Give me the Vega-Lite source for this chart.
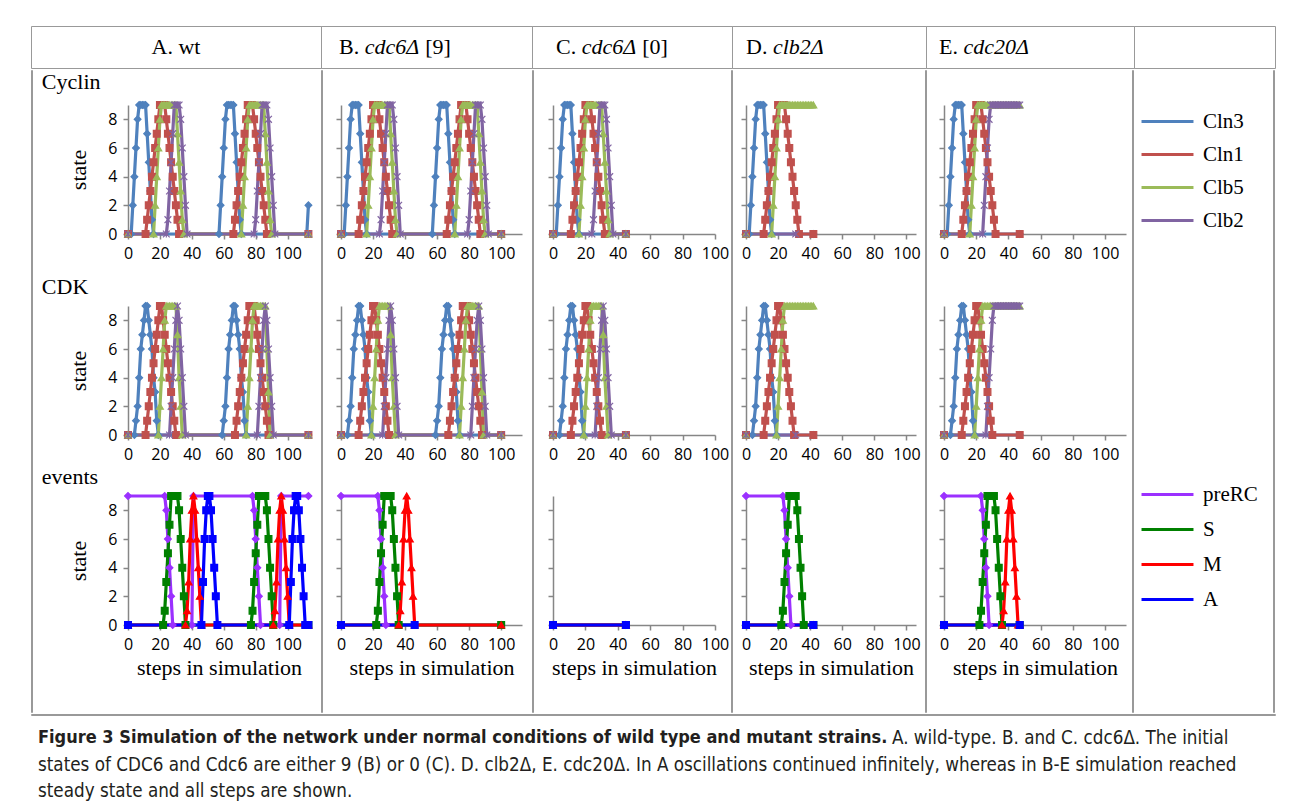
{
"$schema": "https://vega.github.io/schema/vega-lite/v6.json",
"padding": {"left": 30, "top": 25, "right": 5, "bottom": 0},
"background": "white",
"bounds": "full",
"spacing": 0,
"resolve": {"scale": {"color": "independent", "fill": "independent", "stroke": "independent", "shape": "independent"}},
"config": {
 "view": {"stroke": null},
 "font": "Liberation Serif",
 "line": {"strokeWidth": 3.2, "strokeJoin": "round"},
 "point": {"filled": true, "size": 46, "strokeWidth": 1.2, "opacity": 1},
 "axis": {"grid": false, "domainColor": "#868686", "domainWidth": 1.5, "tickColor": "#868686", "tickWidth": 1.5, "tickSize": 5, "labelFont": "Open Sans", "labelFontSize": 16, "labelColor": "#000", "labelPadding": 6, "labelFlush": false, "labelOverlap": false, "titleFont": "Liberation Serif", "titleFontSize": 22, "titleFontWeight": "normal", "titleColor": "#000"},
 "axisY": {"titlePadding": 17},
 "axisX": {"titlePadding": 5},
 "title": {"font": "Liberation Serif", "fontSize": 22, "fontWeight": "normal", "color": "#000"},
 "legend": {"labelFont": "Liberation Serif", "labelFontSize": 21, "labelColor": "#000"}
},
"datasets": {
 "Acyc": [
  {"s":"Cln3","x":[0,2,3,4,5,6,7,8,9,10,11,12,13,14,15,16,57,58,59,60,61,62,63,64,65,66,67,68,69,70,71,112,113],"y":[0,0,2,4,6,8,9,9,9,9,9,7,5,3,1,0,0,2,4,6,8,9,9,9,9,9,7,5,3,1,0,0,2]},
  {"s":"Cln1","x":[0,11,12,13,14,15,16,17,18,19,20,21,22,23,24,25,26,27,28,29,30,31,32,66,67,68,69,70,71,72,73,74,75,76,77,78,79,80,81,82,83,84,85,86,87,113],"y":[0,0,1,2,3,4,5,6,7,8,9,9,9,9,8,7,6,5,4,3,2,1,0,0,1,2,3,4,5,6,7,8,9,9,9,9,8,7,6,5,4,3,2,1,0,0]},
  {"s":"Clb5","x":[0,16,17,18,19,20,21,22,23,24,25,26,27,28,29,30,31,32,33,34,35,71,72,73,74,75,76,77,78,79,80,81,82,83,84,85,86,87,88,89,90,113],"y":[0,0,2,4,6,8,9,9,9,9,9,9,9,9,9,9,7,5,3,1,0,0,2,4,6,8,9,9,9,9,9,9,9,9,9,9,7,5,3,1,0,0]},
  {"s":"Clb2","x":[0,24,25,26,27,28,29,30,31,32,33,34,35,36,37,79,80,81,82,83,84,85,86,87,88,89,90,91,92,113],"y":[0,0,1,3,5,7,9,9,9,9,8,6,4,2,0,0,1,3,5,7,9,9,9,9,8,6,4,2,0,0]}
 ],
 "Bcyc": [
  {"s":"Cln3","x":[0,2,3,4,5,6,7,8,9,10,11,12,13,14,15,16,57,58,59,60,61,62,63,64,65,66,67,68,69,70,71,100],"y":[0,0,2,4,6,8,9,9,9,9,9,7,5,3,1,0,0,2,4,6,8,9,9,9,9,9,7,5,3,1,0,0]},
  {"s":"Cln1","x":[0,11,12,13,14,15,16,17,18,19,20,21,22,23,24,25,26,27,28,29,30,31,32,66,67,68,69,70,71,72,73,74,75,76,77,78,79,80,81,82,83,84,85,86,87,100],"y":[0,0,1,2,3,4,5,6,7,8,9,9,9,9,8,7,6,5,4,3,2,1,0,0,1,2,3,4,5,6,7,8,9,9,9,9,8,7,6,5,4,3,2,1,0,0]},
  {"s":"Clb5","x":[0,16,17,18,19,20,21,22,23,24,25,26,27,28,29,30,31,32,33,34,35,71,72,73,74,75,76,77,78,79,80,81,82,83,84,85,86,87,88,89,90,100],"y":[0,0,2,4,6,8,9,9,9,9,9,9,9,9,9,9,7,5,3,1,0,0,2,4,6,8,9,9,9,9,9,9,9,9,9,9,7,5,3,1,0,0]},
  {"s":"Clb2","x":[0,24,25,26,27,28,29,30,31,32,33,34,35,36,37,79,80,81,82,83,84,85,86,87,88,89,90,91,92,100],"y":[0,0,1,3,5,7,9,9,9,9,8,6,4,2,0,0,1,3,5,7,9,9,9,9,8,6,4,2,0,0]}
 ],
 "Ccyc": [
  {"s":"Cln3","x":[0,2,3,4,5,6,7,8,9,10,11,12,13,14,15,16,45],"y":[0,0,2,4,6,8,9,9,9,9,9,7,5,3,1,0,0]},
  {"s":"Cln1","x":[0,11,12,13,14,15,16,17,18,19,20,21,22,23,24,25,26,27,28,29,30,31,32,45],"y":[0,0,1,2,3,4,5,6,7,8,9,9,9,9,8,7,6,5,4,3,2,1,0,0]},
  {"s":"Clb5","x":[0,16,17,18,19,20,21,22,23,24,25,26,27,28,29,30,31,32,33,34,35,45],"y":[0,0,2,4,6,8,9,9,9,9,9,9,9,9,9,9,7,5,3,1,0,0]},
  {"s":"Clb2","x":[0,24,25,26,27,28,29,30,31,32,33,34,35,36,37,45],"y":[0,0,1,3,5,7,9,9,9,9,8,6,4,2,0,0]}
 ],
 "Dcyc": [
  {"s":"Cln3","x":[0,2,3,4,5,6,7,8,9,10,11,12,13,14,15,16,42],"y":[0,0,2,4,6,8,9,9,9,9,9,7,5,3,1,0,0]},
  {"s":"Cln1","x":[0,11,12,13,14,15,16,17,18,19,20,21,22,23,24,25,26,27,28,29,30,31,32,33,42],"y":[0,0,1,2,3,4,5,6,7,8,9,9,9,9,9,8,7,6,5,4,3,2,1,0,0]},
  {"s":"Clb5","x":[0,16,17,18,19,20,21,22,23,24,25,26,27,28,29,30,31,32,33,34,35,36,37,38,39,40,41,42],"y":[0,0,2,4,6,8,9,9,9,9,9,9,9,9,9,9,9,9,9,9,9,9,9,9,9,9,9,9]},
  {"s":"Clb2","x":[0,31],"y":[0,0]}
 ],
 "Ecyc": [
  {"s":"Cln3","x":[0,2,3,4,5,6,7,8,9,10,11,12,13,14,15,16,47],"y":[0,0,2,4,6,8,9,9,9,9,9,7,5,3,1,0,0]},
  {"s":"Cln1","x":[0,11,12,13,14,15,16,17,18,19,20,21,22,23,24,25,26,27,28,29,30,31,32,47],"y":[0,0,1,2,3,4,5,6,7,8,9,9,9,9,8,7,6,5,4,3,2,1,0,0]},
  {"s":"Clb5","x":[0,16,17,18,19,20,21,22,23,24,25,26,27,28,29,30,31,32,33,34,35,36,37,38,39,40,41,42,43,44,45,46,47],"y":[0,0,2,4,6,8,9,9,9,9,9,9,9,9,9,9,9,9,9,9,9,9,9,9,9,9,9,9,9,9,9,9,9]},
  {"s":"Clb2","x":[0,24,25,26,27,28,29,30,31,32,33,34,35,36,37,38,39,40,41,42,43,44,45,46,47],"y":[0,0,2,4,6,8,9,9,9,9,9,9,9,9,9,9,9,9,9,9,9,9,9,9,9]}
 ],
 "Acdk": [
  {"s":"Cln3","x":[0,4,5,6,7,8,9,10,11,12,13,14,15,16,17,18,19,59,60,61,62,63,64,65,66,67,68,69,70,71,72,73,74,113],"y":[0,0,1,2,4,6,7,8,9,9,8,7,6,4,3,1,0,0,1,2,4,6,7,8,9,9,8,7,6,4,3,1,0,0]},
  {"s":"Cln1","x":[0,11,12,13,14,15,16,17,18,19,20,21,22,23,24,25,26,27,28,29,30,67,68,69,70,71,72,73,74,75,76,77,78,79,80,81,82,83,84,85,86,87,88,113],"y":[0,0,1,2,3,4,5,6,7,8,9,9,8,7,6,5,4,3,2,1,0,0,1,2,3,4,5,6,7,8,9,9,9,9,8,7,6,5,4,3,2,1,0,0]},
  {"s":"Clb5","x":[0,19,20,21,22,23,24,25,26,27,28,29,30,31,32,33,34,74,75,76,77,78,79,80,81,82,83,84,85,86,87,88,89,113],"y":[0,0,2,4,6,8,9,9,9,9,9,9,9,7,4,2,0,0,2,4,6,8,9,9,9,9,9,9,9,9,6,3,0,0]},
  {"s":"Clb2","x":[0,26,27,28,29,30,31,32,33,34,35,36,81,82,83,84,85,86,87,88,89,90,91,113],"y":[0,0,2,4,6,8,9,8,6,4,2,0,0,2,4,6,8,9,8,6,4,2,0,0]}
 ],
 "Bcdk": [
  {"s":"Cln3","x":[0,4,5,6,7,8,9,10,11,12,13,14,15,16,17,18,19,59,60,61,62,63,64,65,66,67,68,69,70,71,72,73,74,100],"y":[0,0,1,2,4,6,7,8,9,9,8,7,6,4,3,1,0,0,1,2,4,6,7,8,9,9,8,7,6,4,3,1,0,0]},
  {"s":"Cln1","x":[0,11,12,13,14,15,16,17,18,19,20,21,22,23,24,25,26,27,28,29,30,67,68,69,70,71,72,73,74,75,76,77,78,79,80,81,82,83,84,85,86,87,88,100],"y":[0,0,1,2,3,4,5,6,7,8,9,9,8,7,6,5,4,3,2,1,0,0,1,2,3,4,5,6,7,8,9,9,9,9,8,7,6,5,4,3,2,1,0,0]},
  {"s":"Clb5","x":[0,19,20,21,22,23,24,25,26,27,28,29,30,31,32,33,34,74,75,76,77,78,79,80,81,82,83,84,85,86,87,88,89,100],"y":[0,0,2,4,6,8,9,9,9,9,9,9,9,7,4,2,0,0,2,4,6,8,9,9,9,9,9,9,9,9,6,3,0,0]},
  {"s":"Clb2","x":[0,26,27,28,29,30,31,32,33,34,35,36,81,82,83,84,85,86,87,88,89,90,91,100],"y":[0,0,2,4,6,8,9,8,6,4,2,0,0,2,4,6,8,9,8,6,4,2,0,0]}
 ],
 "Ccdk": [
  {"s":"Cln3","x":[0,4,5,6,7,8,9,10,11,12,13,14,15,16,17,18,19,45],"y":[0,0,1,2,4,6,7,8,9,9,8,7,6,4,3,1,0,0]},
  {"s":"Cln1","x":[0,11,12,13,14,15,16,17,18,19,20,21,22,23,24,25,26,27,28,29,30,45],"y":[0,0,1,2,3,4,5,6,7,8,9,9,8,7,6,5,4,3,2,1,0,0]},
  {"s":"Clb5","x":[0,19,20,21,22,23,24,25,26,27,28,29,30,31,32,33,34,45],"y":[0,0,2,4,6,8,9,9,9,9,9,9,9,7,4,2,0,0]},
  {"s":"Clb2","x":[0,26,27,28,29,30,31,32,33,34,35,36,45],"y":[0,0,2,4,6,8,9,8,6,4,2,0,0]}
 ],
 "Dcdk": [
  {"s":"Cln3","x":[0,4,5,6,7,8,9,10,11,12,13,14,15,16,17,18,19,42],"y":[0,0,1,2,4,6,7,8,9,9,8,7,6,4,3,1,0,0]},
  {"s":"Cln1","x":[0,11,12,13,14,15,16,17,18,19,20,21,22,23,24,25,26,27,28,29,30,42],"y":[0,0,1,2,3,4,5,6,7,8,9,9,8,7,6,5,4,3,2,1,0,0]},
  {"s":"Clb5","x":[0,19,20,21,22,23,24,25,26,27,28,29,30,31,32,33,34,35,36,37,38,39,40,41,42],"y":[0,0,2,4,6,8,9,9,9,9,9,9,9,9,9,9,9,9,9,9,9,9,9,9,9]},
  {"s":"Clb2","x":[0,31],"y":[0,0]}
 ],
 "Ecdk": [
  {"s":"Cln3","x":[0,4,5,6,7,8,9,10,11,12,13,14,15,16,17,18,19,47],"y":[0,0,1,2,4,6,7,8,9,9,8,7,6,4,3,1,0,0]},
  {"s":"Cln1","x":[0,11,12,13,14,15,16,17,18,19,20,21,22,23,24,25,26,27,28,29,30,47],"y":[0,0,1,2,3,4,5,6,7,8,9,9,8,7,6,5,4,3,2,1,0,0]},
  {"s":"Clb5","x":[0,19,20,21,22,23,24,25,26,27,28,29,30,31,32,33,34,35,36,37,38,39,40,41,42,43,44,45,46,47],"y":[0,0,2,4,6,8,9,9,9,9,9,9,9,9,9,9,9,9,9,9,9,9,9,9,9,9,9,9,9,9]},
  {"s":"Clb2","x":[0,26,27,28,29,30,31,32,33,34,35,36,37,38,39,40,41,42,43,44,45,46,47],"y":[0,0,2,4,6,8,9,9,9,9,9,9,9,9,9,9,9,9,9,9,9,9,9]}
 ],
 "Aev": [
  {"s":"preRC","x":[0,23,24,25,26,27,28,40,41,78,79,80,81,82,83,95,96,113],"y":[9,9,8,6,4,2,0,0,9,9,8,6,4,2,0,0,9,9]},
  {"s":"S","x":[0,22,23,24,25,26,27,28,29,30,31,32,33,34,35,36,77,78,79,80,81,82,83,84,85,86,87,88,89,90,91,113],"y":[0,0,1,3,5,7,9,9,9,9,9,8,6,4,2,0,0,1,3,5,7,9,9,9,9,9,8,6,4,2,0,0]},
  {"s":"M","x":[0,36,37,38,39,40,41,42,43,44,45,46,91,92,93,94,95,96,97,98,99,100,101,113],"y":[0,0,1,3,6,8,9,8,6,4,2,0,0,1,3,6,8,9,8,6,4,2,0,0]},
  {"s":"A","x":[0,46,47,48,49,50,51,52,53,54,55,56,101,102,103,104,105,106,107,108,109,110,111,113],"y":[0,0,3,6,8,9,9,8,6,4,2,0,0,3,6,8,9,9,8,6,4,2,0,0]}
 ],
 "Bev": [
  {"s":"preRC","x":[0,23,24,25,26,27,28,100],"y":[9,9,8,6,4,2,0,0]},
  {"s":"S","x":[0,22,23,24,25,26,27,28,29,30,31,32,33,34,35,36,100],"y":[0,0,1,3,5,7,9,9,9,9,9,8,6,4,2,0,0]},
  {"s":"M","x":[0,36,37,38,39,40,41,42,43,44,45,46,100],"y":[0,0,1,3,6,8,9,8,6,4,2,0,0]},
  {"s":"A","x":[0,46],"y":[0,0]}
 ],
 "Cev": [
  {"s":"preRC","x":[0,45],"y":[0,0]},
  {"s":"S","x":[0,45],"y":[0,0]},
  {"s":"M","x":[0,45],"y":[0,0]},
  {"s":"A","x":[0,45],"y":[0,0]}
 ],
 "Dev": [
  {"s":"preRC","x":[0,23,24,25,26,27,28,42],"y":[9,9,8,6,4,2,0,0]},
  {"s":"S","x":[0,22,23,24,25,26,27,28,29,30,31,32,33,34,35,36,42],"y":[0,0,1,3,5,7,9,9,9,9,9,8,6,4,2,0,0]},
  {"s":"M","x":[0,42],"y":[0,0]},
  {"s":"A","x":[0,42],"y":[0,0]}
 ],
 "Eev": [
  {"s":"preRC","x":[0,23,24,25,26,27,28,47],"y":[9,9,8,6,4,2,0,0]},
  {"s":"S","x":[0,22,23,24,25,26,27,28,29,30,31,32,33,34,35,36,47],"y":[0,0,1,3,5,7,9,9,9,9,9,8,6,4,2,0,0]},
  {"s":"M","x":[0,36,37,38,39,40,41,42,43,44,45,46,47],"y":[0,0,1,3,6,8,9,8,6,4,2,0,0]},
  {"s":"A","x":[0,47],"y":[0,0]}
 ]
},
"vconcat": [
 {"hconcat": [
   {"width": 290, "height": 42, "view": {"stroke": "#999"}, "data": {"values": [{}]}, "mark": {"type": "text", "text": "A. wt", "font": "Liberation Serif", "fontSize": 22, "color": "#000"}},
   {"width": 211, "height": 42, "view": {"stroke": "#999"}, "data": {"values": [{}]}, "layer": [
     {"mark": {"type": "text", "text": "B.", "align": "left", "dx": -87.5, "font": "Liberation Serif", "fontSize": 22, "color": "#000"}},
     {"mark": {"type": "text", "text": "cdc6Δ", "align": "left", "dx": -61.8, "fontStyle": "italic", "font": "Liberation Serif", "fontSize": 22, "color": "#000"}},
     {"mark": {"type": "text", "text": "[9]", "align": "left", "dx": -1.3, "font": "Liberation Serif", "fontSize": 22, "color": "#000"}}]},
   {"width": 200, "height": 42, "view": {"stroke": "#999"}, "data": {"values": [{}]}, "layer": [
     {"mark": {"type": "text", "text": "C.", "align": "left", "dx": -76, "font": "Liberation Serif", "fontSize": 22, "color": "#000"}},
     {"mark": {"type": "text", "text": "cdc6Δ", "align": "left", "dx": -50.3, "fontStyle": "italic", "font": "Liberation Serif", "fontSize": 22, "color": "#000"}},
     {"mark": {"type": "text", "text": "[0]", "align": "left", "dx": 10.2, "font": "Liberation Serif", "fontSize": 22, "color": "#000"}}]},
   {"width": 194, "height": 42, "view": {"stroke": "#999"}, "data": {"values": [{}]}, "layer": [
     {"mark": {"type": "text", "text": "D.", "align": "left", "dx": -83, "font": "Liberation Serif", "fontSize": 22, "color": "#000"}},
     {"mark": {"type": "text", "text": "clb2Δ", "align": "left", "dx": -56.1, "fontStyle": "italic", "font": "Liberation Serif", "fontSize": 22, "color": "#000"}}]},
   {"width": 208, "height": 42, "view": {"stroke": "#999"}, "data": {"values": [{}]}, "layer": [
     {"mark": {"type": "text", "text": "E.", "align": "left", "dx": -91, "font": "Liberation Serif", "fontSize": 22, "color": "#000"}},
     {"mark": {"type": "text", "text": "cdc20Δ", "align": "left", "dx": -66.5, "fontStyle": "italic", "font": "Liberation Serif", "fontSize": 22, "color": "#000"}}]},
   {"width": 141, "height": 42, "view": {"stroke": "#999"}, "data": {"values": []}, "mark": {"type": "text", "text": ""}}
  ], "spacing": 0, "bounds": "flush"},
 {"hconcat": [
   {"width": 1, "height": 642, "view": {"stroke": "#999"}, "data": {"values": []}, "mark": {"type": "text", "text": ""}},
   {"width": 8, "height": 1, "data": {"values": []}, "mark": {"type": "text", "text": ""}},
   {"vconcat": [
     {"width": 1, "height": 35, "data": {"values": []}, "mark": {"type": "text", "text": ""}},
     {"width": 182, "height": 129, "data": {"name": "Acyc"}, "transform": [{"flatten": ["x", "y"]}],
      "title": {"text": "Cyclin", "anchor": "start", "dx": -26, "dy": 28, "offset": 16, "baseline": "alphabetic"},
      "encoding": {"x": {"field": "x", "type": "quantitative", "scale": {"domain": [0, 114], "nice": false}, "axis": {"values": [0,20,40,60,80,100], "title": null}},
                   "y": {"field": "y", "type": "quantitative", "scale": {"domain": [0, 9], "nice": false}, "axis": {"values": [0,2,4,6,8], "title": "state"}}},
      "layer": [
       {"mark": "line", "encoding": {"color": {"field": "s", "type": "nominal", "scale": {"domain": ["Cln3","Cln1","Clb5","Clb2"], "range": ["#4F81BD","#C0504D","#9BBB59","#8064A2"]}, "legend": null}}},
       {"mark": "point", "encoding": {
         "fill": {"field": "s", "type": "nominal", "scale": {"domain": ["Cln3","Cln1","Clb5","Clb2"], "range": ["#4F81BD","#C0504D","#9BBB59","#8064A2"]}, "legend": null},
         "stroke": {"field": "s", "type": "nominal", "scale": {"domain": ["Cln3","Cln1","Clb5","Clb2"], "range": ["#4F81BD","#C0504D","#9BBB59","#8064A2"]}, "legend": null},
         "shape": {"field": "s", "type": "nominal", "scale": {"domain": ["Cln3","Cln1","Clb5","Clb2"], "range": ["diamond","square","triangle-up","M-1,-1L1,1M-1,1L1,-1M0,-1L0,1"]}, "legend": null}}}
      ]},
     {"width": 1, "height": 72, "data": {"values": []}, "mark": {"type": "text", "text": ""}},
     {"width": 182, "height": 129, "data": {"name": "Acdk"}, "transform": [{"flatten": ["x", "y"]}],
      "title": {"text": "CDK", "anchor": "start", "dx": -26, "dy": 28, "offset": 12, "baseline": "alphabetic"},
      "encoding": {"x": {"field": "x", "type": "quantitative", "scale": {"domain": [0, 114], "nice": false}, "axis": {"values": [0,20,40,60,80,100], "title": null}},
                   "y": {"field": "y", "type": "quantitative", "scale": {"domain": [0, 9], "nice": false}, "axis": {"values": [0,2,4,6,8], "title": "state"}}},
      "layer": [
       {"mark": "line", "encoding": {"color": {"field": "s", "type": "nominal", "scale": {"domain": ["Cln3","Cln1","Clb5","Clb2"], "range": ["#4F81BD","#C0504D","#9BBB59","#8064A2"]}, "legend": null}}},
       {"mark": "point", "encoding": {
         "fill": {"field": "s", "type": "nominal", "scale": {"domain": ["Cln3","Cln1","Clb5","Clb2"], "range": ["#4F81BD","#C0504D","#9BBB59","#8064A2"]}, "legend": null},
         "stroke": {"field": "s", "type": "nominal", "scale": {"domain": ["Cln3","Cln1","Clb5","Clb2"], "range": ["#4F81BD","#C0504D","#9BBB59","#8064A2"]}, "legend": null},
         "shape": {"field": "s", "type": "nominal", "scale": {"domain": ["Cln3","Cln1","Clb5","Clb2"], "range": ["diamond","square","triangle-up","M-1,-1L1,1M-1,1L1,-1M0,-1L0,1"]}, "legend": null}}}
      ]},
     {"width": 1, "height": 61, "data": {"values": []}, "mark": {"type": "text", "text": ""}},
     {"width": 182, "height": 129, "data": {"name": "Aev"}, "transform": [{"flatten": ["x", "y"]}],
      "title": {"text": "events", "anchor": "start", "dx": -26, "dy": 29, "offset": 13, "baseline": "alphabetic"},
      "encoding": {"x": {"field": "x", "type": "quantitative", "scale": {"domain": [0, 114], "nice": false}, "axis": {"values": [0,20,40,60,80,100], "title": "steps in simulation"}},
                   "y": {"field": "y", "type": "quantitative", "scale": {"domain": [0, 9], "nice": false}, "axis": {"values": [0,2,4,6,8], "title": "state"}}},
      "layer": [
       {"mark": "line", "encoding": {"color": {"field": "s", "type": "nominal", "scale": {"domain": ["preRC","S","M","A"], "range": ["#9B30FF","#008000","#FF0000","#0000FF"]}, "legend": null}}},
       {"mark": "point", "encoding": {
         "fill": {"field": "s", "type": "nominal", "scale": {"domain": ["preRC","S","M","A"], "range": ["#9B30FF","#008000","#FF0000","#0000FF"]}, "legend": null},
         "stroke": {"field": "s", "type": "nominal", "scale": {"domain": ["preRC","S","M","A"], "range": ["#9B30FF","#008000","#FF0000","#0000FF"]}, "legend": null},
         "shape": {"field": "s", "type": "nominal", "scale": {"domain": ["preRC","S","M","A"], "range": ["diamond","square","triangle-up","square"]}, "legend": null}}}
      ]},
     {"width": 1, "height": 87, "data": {"values": []}, "mark": {"type": "text", "text": ""}}
    ], "spacing": 0, "bounds": "flush", "resolve": {"scale": {"color": "independent", "fill": "independent", "stroke": "independent", "shape": "independent"}}},
   {"width": 4.25, "height": 1, "data": {"values": []}, "mark": {"type": "text", "text": ""}},
   {"width": 1, "height": 642, "view": {"stroke": "#999"}, "data": {"values": []}, "mark": {"type": "text", "text": ""}},
   {"width": 11.5, "height": 1, "data": {"values": []}, "mark": {"type": "text", "text": ""}},
   {"vconcat": [
     {"width": 1, "height": 35, "data": {"values": []}, "mark": {"type": "text", "text": ""}},
     {"width": 181, "height": 129, "data": {"name": "Bcyc"}, "transform": [{"flatten": ["x", "y"]}],
      "encoding": {"x": {"field": "x", "type": "quantitative", "scale": {"domain": [0, 113], "nice": false}, "axis": {"values": [0,20,40,60,80,100], "title": null}},
                   "y": {"field": "y", "type": "quantitative", "scale": {"domain": [0, 9], "nice": false}, "axis": {"values": [0,2,4,6,8], "title": null, "labels": false}}},
      "layer": [
       {"mark": "line", "encoding": {"color": {"field": "s", "type": "nominal", "scale": {"domain": ["Cln3","Cln1","Clb5","Clb2"], "range": ["#4F81BD","#C0504D","#9BBB59","#8064A2"]}, "legend": null}}},
       {"mark": "point", "encoding": {
         "fill": {"field": "s", "type": "nominal", "scale": {"domain": ["Cln3","Cln1","Clb5","Clb2"], "range": ["#4F81BD","#C0504D","#9BBB59","#8064A2"]}, "legend": null},
         "stroke": {"field": "s", "type": "nominal", "scale": {"domain": ["Cln3","Cln1","Clb5","Clb2"], "range": ["#4F81BD","#C0504D","#9BBB59","#8064A2"]}, "legend": null},
         "shape": {"field": "s", "type": "nominal", "scale": {"domain": ["Cln3","Cln1","Clb5","Clb2"], "range": ["diamond","square","triangle-up","M-1,-1L1,1M-1,1L1,-1M0,-1L0,1"]}, "legend": null}}}
      ]},
     {"width": 1, "height": 72, "data": {"values": []}, "mark": {"type": "text", "text": ""}},
     {"width": 181, "height": 129, "data": {"name": "Bcdk"}, "transform": [{"flatten": ["x", "y"]}],
      "encoding": {"x": {"field": "x", "type": "quantitative", "scale": {"domain": [0, 113], "nice": false}, "axis": {"values": [0,20,40,60,80,100], "title": null}},
                   "y": {"field": "y", "type": "quantitative", "scale": {"domain": [0, 9], "nice": false}, "axis": {"values": [0,2,4,6,8], "title": null, "labels": false}}},
      "layer": [
       {"mark": "line", "encoding": {"color": {"field": "s", "type": "nominal", "scale": {"domain": ["Cln3","Cln1","Clb5","Clb2"], "range": ["#4F81BD","#C0504D","#9BBB59","#8064A2"]}, "legend": null}}},
       {"mark": "point", "encoding": {
         "fill": {"field": "s", "type": "nominal", "scale": {"domain": ["Cln3","Cln1","Clb5","Clb2"], "range": ["#4F81BD","#C0504D","#9BBB59","#8064A2"]}, "legend": null},
         "stroke": {"field": "s", "type": "nominal", "scale": {"domain": ["Cln3","Cln1","Clb5","Clb2"], "range": ["#4F81BD","#C0504D","#9BBB59","#8064A2"]}, "legend": null},
         "shape": {"field": "s", "type": "nominal", "scale": {"domain": ["Cln3","Cln1","Clb5","Clb2"], "range": ["diamond","square","triangle-up","M-1,-1L1,1M-1,1L1,-1M0,-1L0,1"]}, "legend": null}}}
      ]},
     {"width": 1, "height": 61, "data": {"values": []}, "mark": {"type": "text", "text": ""}},
     {"width": 181, "height": 129, "data": {"name": "Bev"}, "transform": [{"flatten": ["x", "y"]}],
      "encoding": {"x": {"field": "x", "type": "quantitative", "scale": {"domain": [0, 113], "nice": false}, "axis": {"values": [0,20,40,60,80,100], "title": "steps in simulation"}},
                   "y": {"field": "y", "type": "quantitative", "scale": {"domain": [0, 9], "nice": false}, "axis": {"values": [0,2,4,6,8], "title": null, "labels": false}}},
      "layer": [
       {"mark": "line", "encoding": {"color": {"field": "s", "type": "nominal", "scale": {"domain": ["preRC","S","M","A"], "range": ["#9B30FF","#008000","#FF0000","#0000FF"]}, "legend": null}}},
       {"mark": "point", "encoding": {
         "fill": {"field": "s", "type": "nominal", "scale": {"domain": ["preRC","S","M","A"], "range": ["#9B30FF","#008000","#FF0000","#0000FF"]}, "legend": null},
         "stroke": {"field": "s", "type": "nominal", "scale": {"domain": ["preRC","S","M","A"], "range": ["#9B30FF","#008000","#FF0000","#0000FF"]}, "legend": null},
         "shape": {"field": "s", "type": "nominal", "scale": {"domain": ["preRC","S","M","A"], "range": ["diamond","square","triangle-up","square"]}, "legend": null}}}
      ]},
     {"width": 1, "height": 87, "data": {"values": []}, "mark": {"type": "text", "text": ""}}
    ], "spacing": 0, "bounds": "flush", "resolve": {"scale": {"color": "independent", "fill": "independent", "stroke": "independent", "shape": "independent"}}},
   {"width": 8.7, "height": 1, "data": {"values": []}, "mark": {"type": "text", "text": ""}},
   {"width": 1, "height": 642, "view": {"stroke": "#999"}, "data": {"values": []}, "mark": {"type": "text", "text": ""}},
   {"width": 13, "height": 1, "data": {"values": []}, "mark": {"type": "text", "text": ""}},
   {"vconcat": [
     {"width": 1, "height": 35, "data": {"values": []}, "mark": {"type": "text", "text": ""}},
     {"width": 162, "height": 129, "data": {"name": "Ccyc"}, "transform": [{"flatten": ["x", "y"]}],
      "encoding": {"x": {"field": "x", "type": "quantitative", "scale": {"domain": [0, 100], "nice": false}, "axis": {"values": [0,20,40,60,80,100], "title": null}},
                   "y": {"field": "y", "type": "quantitative", "scale": {"domain": [0, 9], "nice": false}, "axis": {"values": [0,2,4,6,8], "title": null, "labels": false}}},
      "layer": [
       {"mark": "line", "encoding": {"color": {"field": "s", "type": "nominal", "scale": {"domain": ["Cln3","Cln1","Clb5","Clb2"], "range": ["#4F81BD","#C0504D","#9BBB59","#8064A2"]}, "legend": null}}},
       {"mark": "point", "encoding": {
         "fill": {"field": "s", "type": "nominal", "scale": {"domain": ["Cln3","Cln1","Clb5","Clb2"], "range": ["#4F81BD","#C0504D","#9BBB59","#8064A2"]}, "legend": null},
         "stroke": {"field": "s", "type": "nominal", "scale": {"domain": ["Cln3","Cln1","Clb5","Clb2"], "range": ["#4F81BD","#C0504D","#9BBB59","#8064A2"]}, "legend": null},
         "shape": {"field": "s", "type": "nominal", "scale": {"domain": ["Cln3","Cln1","Clb5","Clb2"], "range": ["diamond","square","triangle-up","M-1,-1L1,1M-1,1L1,-1M0,-1L0,1"]}, "legend": null}}}
      ]},
     {"width": 1, "height": 72, "data": {"values": []}, "mark": {"type": "text", "text": ""}},
     {"width": 162, "height": 129, "data": {"name": "Ccdk"}, "transform": [{"flatten": ["x", "y"]}],
      "encoding": {"x": {"field": "x", "type": "quantitative", "scale": {"domain": [0, 100], "nice": false}, "axis": {"values": [0,20,40,60,80,100], "title": null}},
                   "y": {"field": "y", "type": "quantitative", "scale": {"domain": [0, 9], "nice": false}, "axis": {"values": [0,2,4,6,8], "title": null, "labels": false}}},
      "layer": [
       {"mark": "line", "encoding": {"color": {"field": "s", "type": "nominal", "scale": {"domain": ["Cln3","Cln1","Clb5","Clb2"], "range": ["#4F81BD","#C0504D","#9BBB59","#8064A2"]}, "legend": null}}},
       {"mark": "point", "encoding": {
         "fill": {"field": "s", "type": "nominal", "scale": {"domain": ["Cln3","Cln1","Clb5","Clb2"], "range": ["#4F81BD","#C0504D","#9BBB59","#8064A2"]}, "legend": null},
         "stroke": {"field": "s", "type": "nominal", "scale": {"domain": ["Cln3","Cln1","Clb5","Clb2"], "range": ["#4F81BD","#C0504D","#9BBB59","#8064A2"]}, "legend": null},
         "shape": {"field": "s", "type": "nominal", "scale": {"domain": ["Cln3","Cln1","Clb5","Clb2"], "range": ["diamond","square","triangle-up","M-1,-1L1,1M-1,1L1,-1M0,-1L0,1"]}, "legend": null}}}
      ]},
     {"width": 1, "height": 61, "data": {"values": []}, "mark": {"type": "text", "text": ""}},
     {"width": 162, "height": 129, "data": {"name": "Cev"}, "transform": [{"flatten": ["x", "y"]}],
      "encoding": {"x": {"field": "x", "type": "quantitative", "scale": {"domain": [0, 100], "nice": false}, "axis": {"values": [0,20,40,60,80,100], "title": "steps in simulation"}},
                   "y": {"field": "y", "type": "quantitative", "scale": {"domain": [0, 9], "nice": false}, "axis": {"values": [0,2,4,6,8], "title": null, "labels": false}}},
      "layer": [
       {"mark": "line", "encoding": {"color": {"field": "s", "type": "nominal", "scale": {"domain": ["preRC","S","M","A"], "range": ["#9B30FF","#008000","#FF0000","#0000FF"]}, "legend": null}}},
       {"mark": "point", "encoding": {
         "fill": {"field": "s", "type": "nominal", "scale": {"domain": ["preRC","S","M","A"], "range": ["#9B30FF","#008000","#FF0000","#0000FF"]}, "legend": null},
         "stroke": {"field": "s", "type": "nominal", "scale": {"domain": ["preRC","S","M","A"], "range": ["#9B30FF","#008000","#FF0000","#0000FF"]}, "legend": null},
         "shape": {"field": "s", "type": "nominal", "scale": {"domain": ["preRC","S","M","A"], "range": ["diamond","square","triangle-up","square"]}, "legend": null}}}
      ]},
     {"width": 1, "height": 87, "data": {"values": []}, "mark": {"type": "text", "text": ""}}
    ], "spacing": 0, "bounds": "flush", "resolve": {"scale": {"color": "independent", "fill": "independent", "stroke": "independent", "shape": "independent"}}},
   {"width": 0.1, "height": 1, "data": {"values": []}, "mark": {"type": "text", "text": ""}},
   {"width": 1, "height": 642, "view": {"stroke": "#999"}, "data": {"values": []}, "mark": {"type": "text", "text": ""}},
   {"width": 7, "height": 1, "data": {"values": []}, "mark": {"type": "text", "text": ""}},
   {"vconcat": [
     {"width": 1, "height": 35, "data": {"values": []}, "mark": {"type": "text", "text": ""}},
     {"width": 170, "height": 129, "data": {"name": "Dcyc"}, "transform": [{"flatten": ["x", "y"]}],
      "encoding": {"x": {"field": "x", "type": "quantitative", "scale": {"domain": [0, 106], "nice": false}, "axis": {"values": [0,20,40,60,80,100], "title": null}},
                   "y": {"field": "y", "type": "quantitative", "scale": {"domain": [0, 9], "nice": false}, "axis": {"values": [0,2,4,6,8], "title": null, "labels": false}}},
      "layer": [
       {"mark": "line", "encoding": {"color": {"field": "s", "type": "nominal", "scale": {"domain": ["Cln3","Cln1","Clb5","Clb2"], "range": ["#4F81BD","#C0504D","#9BBB59","#8064A2"]}, "legend": null}}},
       {"mark": "point", "encoding": {
         "fill": {"field": "s", "type": "nominal", "scale": {"domain": ["Cln3","Cln1","Clb5","Clb2"], "range": ["#4F81BD","#C0504D","#9BBB59","#8064A2"]}, "legend": null},
         "stroke": {"field": "s", "type": "nominal", "scale": {"domain": ["Cln3","Cln1","Clb5","Clb2"], "range": ["#4F81BD","#C0504D","#9BBB59","#8064A2"]}, "legend": null},
         "shape": {"field": "s", "type": "nominal", "scale": {"domain": ["Cln3","Cln1","Clb5","Clb2"], "range": ["diamond","square","triangle-up","M-1,-1L1,1M-1,1L1,-1M0,-1L0,1"]}, "legend": null}}}
      ]},
     {"width": 1, "height": 72, "data": {"values": []}, "mark": {"type": "text", "text": ""}},
     {"width": 170, "height": 129, "data": {"name": "Dcdk"}, "transform": [{"flatten": ["x", "y"]}],
      "encoding": {"x": {"field": "x", "type": "quantitative", "scale": {"domain": [0, 106], "nice": false}, "axis": {"values": [0,20,40,60,80,100], "title": null}},
                   "y": {"field": "y", "type": "quantitative", "scale": {"domain": [0, 9], "nice": false}, "axis": {"values": [0,2,4,6,8], "title": null, "labels": false}}},
      "layer": [
       {"mark": "line", "encoding": {"color": {"field": "s", "type": "nominal", "scale": {"domain": ["Cln3","Cln1","Clb5","Clb2"], "range": ["#4F81BD","#C0504D","#9BBB59","#8064A2"]}, "legend": null}}},
       {"mark": "point", "encoding": {
         "fill": {"field": "s", "type": "nominal", "scale": {"domain": ["Cln3","Cln1","Clb5","Clb2"], "range": ["#4F81BD","#C0504D","#9BBB59","#8064A2"]}, "legend": null},
         "stroke": {"field": "s", "type": "nominal", "scale": {"domain": ["Cln3","Cln1","Clb5","Clb2"], "range": ["#4F81BD","#C0504D","#9BBB59","#8064A2"]}, "legend": null},
         "shape": {"field": "s", "type": "nominal", "scale": {"domain": ["Cln3","Cln1","Clb5","Clb2"], "range": ["diamond","square","triangle-up","M-1,-1L1,1M-1,1L1,-1M0,-1L0,1"]}, "legend": null}}}
      ]},
     {"width": 1, "height": 61, "data": {"values": []}, "mark": {"type": "text", "text": ""}},
     {"width": 170, "height": 129, "data": {"name": "Dev"}, "transform": [{"flatten": ["x", "y"]}],
      "encoding": {"x": {"field": "x", "type": "quantitative", "scale": {"domain": [0, 106], "nice": false}, "axis": {"values": [0,20,40,60,80,100], "title": "steps in simulation"}},
                   "y": {"field": "y", "type": "quantitative", "scale": {"domain": [0, 9], "nice": false}, "axis": {"values": [0,2,4,6,8], "title": null, "labels": false}}},
      "layer": [
       {"mark": "line", "encoding": {"color": {"field": "s", "type": "nominal", "scale": {"domain": ["preRC","S","M","A"], "range": ["#9B30FF","#008000","#FF0000","#0000FF"]}, "legend": null}}},
       {"mark": "point", "encoding": {
         "fill": {"field": "s", "type": "nominal", "scale": {"domain": ["preRC","S","M","A"], "range": ["#9B30FF","#008000","#FF0000","#0000FF"]}, "legend": null},
         "stroke": {"field": "s", "type": "nominal", "scale": {"domain": ["preRC","S","M","A"], "range": ["#9B30FF","#008000","#FF0000","#0000FF"]}, "legend": null},
         "shape": {"field": "s", "type": "nominal", "scale": {"domain": ["preRC","S","M","A"], "range": ["diamond","square","triangle-up","square"]}, "legend": null}}}
      ]},
     {"width": 1, "height": 87, "data": {"values": []}, "mark": {"type": "text", "text": ""}}
    ], "spacing": 0, "bounds": "flush", "resolve": {"scale": {"color": "independent", "fill": "independent", "stroke": "independent", "shape": "independent"}}},
   {"width": 2.4, "height": 1, "data": {"values": []}, "mark": {"type": "text", "text": ""}},
   {"width": 1, "height": 642, "view": {"stroke": "#999"}, "data": {"values": []}, "mark": {"type": "text", "text": ""}},
   {"width": 10.3, "height": 1, "data": {"values": []}, "mark": {"type": "text", "text": ""}},
   {"vconcat": [
     {"width": 1, "height": 35, "data": {"values": []}, "mark": {"type": "text", "text": ""}},
     {"width": 182, "height": 129, "data": {"name": "Ecyc"}, "transform": [{"flatten": ["x", "y"]}],
      "encoding": {"x": {"field": "x", "type": "quantitative", "scale": {"domain": [0, 113], "nice": false}, "axis": {"values": [0,20,40,60,80,100], "title": null}},
                   "y": {"field": "y", "type": "quantitative", "scale": {"domain": [0, 9], "nice": false}, "axis": {"values": [0,2,4,6,8], "title": null, "labels": false}}},
      "layer": [
       {"mark": "line", "encoding": {"color": {"field": "s", "type": "nominal", "scale": {"domain": ["Cln3","Cln1","Clb5","Clb2"], "range": ["#4F81BD","#C0504D","#9BBB59","#8064A2"]}, "legend": null}}},
       {"mark": "point", "encoding": {
         "fill": {"field": "s", "type": "nominal", "scale": {"domain": ["Cln3","Cln1","Clb5","Clb2"], "range": ["#4F81BD","#C0504D","#9BBB59","#8064A2"]}, "legend": null},
         "stroke": {"field": "s", "type": "nominal", "scale": {"domain": ["Cln3","Cln1","Clb5","Clb2"], "range": ["#4F81BD","#C0504D","#9BBB59","#8064A2"]}, "legend": null},
         "shape": {"field": "s", "type": "nominal", "scale": {"domain": ["Cln3","Cln1","Clb5","Clb2"], "range": ["diamond","square","triangle-up","M-1,-1L1,1M-1,1L1,-1M0,-1L0,1"]}, "legend": null}}}
      ]},
     {"width": 1, "height": 72, "data": {"values": []}, "mark": {"type": "text", "text": ""}},
     {"width": 182, "height": 129, "data": {"name": "Ecdk"}, "transform": [{"flatten": ["x", "y"]}],
      "encoding": {"x": {"field": "x", "type": "quantitative", "scale": {"domain": [0, 113], "nice": false}, "axis": {"values": [0,20,40,60,80,100], "title": null}},
                   "y": {"field": "y", "type": "quantitative", "scale": {"domain": [0, 9], "nice": false}, "axis": {"values": [0,2,4,6,8], "title": null, "labels": false}}},
      "layer": [
       {"mark": "line", "encoding": {"color": {"field": "s", "type": "nominal", "scale": {"domain": ["Cln3","Cln1","Clb5","Clb2"], "range": ["#4F81BD","#C0504D","#9BBB59","#8064A2"]}, "legend": null}}},
       {"mark": "point", "encoding": {
         "fill": {"field": "s", "type": "nominal", "scale": {"domain": ["Cln3","Cln1","Clb5","Clb2"], "range": ["#4F81BD","#C0504D","#9BBB59","#8064A2"]}, "legend": null},
         "stroke": {"field": "s", "type": "nominal", "scale": {"domain": ["Cln3","Cln1","Clb5","Clb2"], "range": ["#4F81BD","#C0504D","#9BBB59","#8064A2"]}, "legend": null},
         "shape": {"field": "s", "type": "nominal", "scale": {"domain": ["Cln3","Cln1","Clb5","Clb2"], "range": ["diamond","square","triangle-up","M-1,-1L1,1M-1,1L1,-1M0,-1L0,1"]}, "legend": null}}}
      ]},
     {"width": 1, "height": 61, "data": {"values": []}, "mark": {"type": "text", "text": ""}},
     {"width": 182, "height": 129, "data": {"name": "Eev"}, "transform": [{"flatten": ["x", "y"]}],
      "encoding": {"x": {"field": "x", "type": "quantitative", "scale": {"domain": [0, 113], "nice": false}, "axis": {"values": [0,20,40,60,80,100], "title": "steps in simulation"}},
                   "y": {"field": "y", "type": "quantitative", "scale": {"domain": [0, 9], "nice": false}, "axis": {"values": [0,2,4,6,8], "title": null, "labels": false}}},
      "layer": [
       {"mark": "line", "encoding": {"color": {"field": "s", "type": "nominal", "scale": {"domain": ["preRC","S","M","A"], "range": ["#9B30FF","#008000","#FF0000","#0000FF"]}, "legend": null}}},
       {"mark": "point", "encoding": {
         "fill": {"field": "s", "type": "nominal", "scale": {"domain": ["preRC","S","M","A"], "range": ["#9B30FF","#008000","#FF0000","#0000FF"]}, "legend": null},
         "stroke": {"field": "s", "type": "nominal", "scale": {"domain": ["preRC","S","M","A"], "range": ["#9B30FF","#008000","#FF0000","#0000FF"]}, "legend": null},
         "shape": {"field": "s", "type": "nominal", "scale": {"domain": ["preRC","S","M","A"], "range": ["diamond","square","triangle-up","square"]}, "legend": null}}}
      ]},
     {"width": 1, "height": 87, "data": {"values": []}, "mark": {"type": "text", "text": ""}}
    ], "spacing": 0, "bounds": "flush", "resolve": {"scale": {"color": "independent", "fill": "independent", "stroke": "independent", "shape": "independent"}}},
   {"width": 4.7, "height": 1, "data": {"values": []}, "mark": {"type": "text", "text": ""}},
   {"width": 1, "height": 642, "view": {"stroke": "#999"}, "data": {"values": []}, "mark": {"type": "text", "text": ""}},
   {"vconcat": [
     {"width": 138, "height": 17.5, "data": {"values": []}, "mark": {"type": "text", "text": ""}},
     {"width": 138, "height": 129, "data": {"values": []}, "mark": {"type": "line", "strokeWidth": 5},
      "encoding": {"color": {"field": "s", "type": "nominal", "scale": {"domain": ["Cln3","Cln1","Clb5","Clb2"], "range": ["#4F81BD","#C0504D","#9BBB59","#8064A2"]},
        "legend": {"orient": "top-left", "offset": 23, "padding": 0, "title": null, "symbolType": "M-3,0H3", "symbolSize": 300, "symbolStrokeWidth": 5, "labelOffset": 25, "rowPadding": 11, "labelFont": "Liberation Serif", "labelFontSize": 21, "labelColor": "#000"}}}},
     {"width": 138, "height": 244, "data": {"values": []}, "mark": {"type": "text", "text": ""}},
     {"width": 138, "height": 129, "data": {"values": []}, "mark": {"type": "line", "strokeWidth": 5},
      "encoding": {"color": {"field": "s", "type": "nominal", "scale": {"domain": ["preRC","S","M","A"], "range": ["#9B30FF","#008000","#FF0000","#0000FF"]},
        "legend": {"orient": "top-left", "offset": 23, "padding": 0, "title": null, "symbolType": "M-3,0H3", "symbolSize": 300, "symbolStrokeWidth": 5, "labelOffset": 25, "rowPadding": 13, "labelFont": "Liberation Serif", "labelFontSize": 21, "labelColor": "#000"}}}}
    ], "spacing": 0, "bounds": "flush", "resolve": {"scale": {"color": "independent"}}},
   {"width": 1, "height": 642, "view": {"stroke": "#999"}, "data": {"values": []}, "mark": {"type": "text", "text": ""}}
  ], "spacing": 0, "bounds": "full", "resolve": {"scale": {"color": "independent", "fill": "independent", "stroke": "independent", "shape": "independent"}}},
 {"width": 1244, "height": 1, "view": {"stroke": "#999"}, "data": {"values": []}, "mark": {"type": "text", "text": ""}},
 {"width": 1244, "height": 80, "data": {"values": [{}]}, "layer": [
   {"mark": {"type": "text", "text": "Figure 3 Simulation of the network under normal conditions of wild type and mutant strains.", "align": "left", "dx": -615, "dy": -18, "font": "Liberation Sans Narrow, DejaVu Sans Condensed, Liberation Sans", "fontSize": 18, "fontWeight": "bold", "color": "#231F20"}},
   {"mark": {"type": "text", "text": "A. wild-type. B. and C. cdc6Δ. The initial", "align": "left", "dx": 239, "dy": -18, "font": "Liberation Sans Narrow, DejaVu Sans Condensed, Liberation Sans", "fontSize": 18.7, "color": "#231F20"}},
   {"mark": {"type": "text", "text": "states of CDC6 and Cdc6 are either 9 (B) or 0 (C). D. clb2Δ, E. cdc20Δ. In A oscillations continued infinitely, whereas in B-E simulation reached", "align": "left", "dx": -615, "dy": 9, "font": "Liberation Sans Narrow, DejaVu Sans Condensed, Liberation Sans", "fontSize": 18.7, "color": "#231F20"}},
   {"mark": {"type": "text", "text": "steady state and all steps are shown.", "align": "left", "dx": -615, "dy": 35, "font": "Liberation Sans Narrow, DejaVu Sans Condensed, Liberation Sans", "fontSize": 18.7, "color": "#231F20"}}
  ]}
]
}
